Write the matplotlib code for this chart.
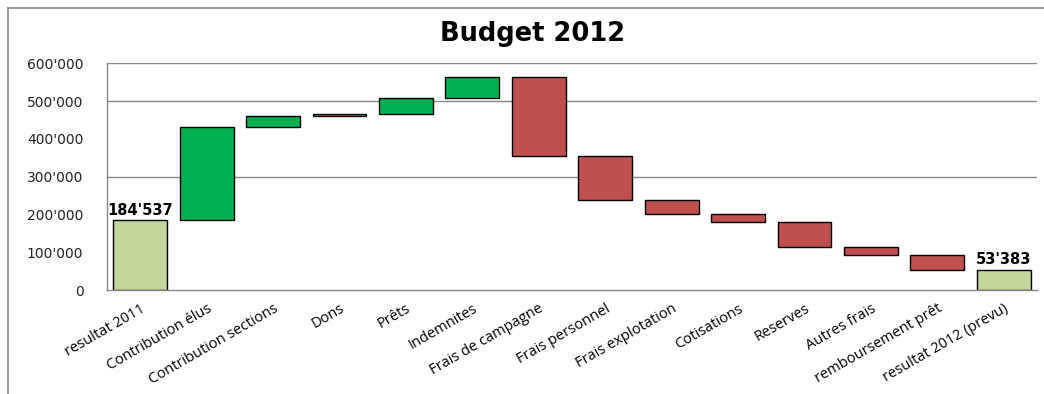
import matplotlib
matplotlib.use("Agg")
import matplotlib.pyplot as plt
from matplotlib.lines import Line2D
from matplotlib.ticker import FuncFormatter
import numpy as np

categories = ["resultat 2011", "Contribution élus", "Contribution sections", "Dons",
              "Prêts", "Indemnites", "Frais de campagne", "Frais personnel",
              "Frais explotation", "Cotisations", "Reserves", "Autres frais",
              "remboursement prêt", "resultat 2012 (prevu)"]
start_total = 184537
changes = [247000, 29000, 6000, 41000, 55000,
           -209000, -116500, -37000, -21000, -64500, -23000, -38154]
end_total = 53383
gridlines = [300000, 500000, 600000]
yticks = [0, 100000, 200000, 300000, 400000, 500000, 600000]

C_TOTAL = "#C3D69B"
C_UP = "#00B050"
C_DOWN = "#C0504D"

plt.rcParams['font.family'] = ['Open Sans', 'DejaVu Sans']

fig = plt.figure(figsize=(10.44, 3.94), dpi=100)
ax = fig.add_axes([107/1044, 1-290/394, (1037-107)/1044, (290-63.3)/394])

bottoms, heights, colors = [], [], []
bottoms.append(0); heights.append(start_total); colors.append(C_TOTAL)
level = start_total
for c in changes:
    if c >= 0:
        bottoms.append(level); heights.append(c); colors.append(C_UP)
    else:
        bottoms.append(level + c); heights.append(-c); colors.append(C_DOWN)
    level += c
bottoms.append(0); heights.append(end_total); colors.append(C_TOTAL)

x = np.arange(len(categories))
for g in gridlines:
    ax.axhline(g, color="#868686", lw=1.0, zorder=0)
ax.bar(x, heights, bottom=bottoms, width=0.81, color=colors,
       edgecolor="black", linewidth=1.0, zorder=2)

ax.text(x[0], start_total + 7000, "184'537", ha="center", va="bottom",
        fontsize=10.5, fontweight="bold", family=["DejaVu Sans"])
ax.text(x[-1], end_total + 7000, "53'383", ha="center", va="bottom",
        fontsize=10.5, fontweight="bold", family=["DejaVu Sans"])

ax.set_xlim(-0.5, len(categories) - 0.5)
ax.set_ylim(0, 600000)
ax.set_yticks(yticks)
ax.yaxis.set_major_formatter(FuncFormatter(lambda v, p: "0" if v == 0 else f"{int(v):,}".replace(",", "'")))
ax.set_xticks(x)
ax.set_xticklabels(categories, rotation=30, ha="right", rotation_mode="anchor", fontsize=10.5)
ax.tick_params(axis="both", length=0)
for lab in ax.get_yticklabels():
    lab.set_family(["DejaVu Sans"])
ax.tick_params(axis="y", pad=17, labelsize=10, labelcolor="#222222")
ax.tick_params(axis="x", pad=8)
for s in ["top", "right"]:
    ax.spines[s].set_visible(False)
for s in ["left", "bottom"]:
    ax.spines[s].set_color("#868686")
    ax.spines[s].set_linewidth(1.0)

fig.text(0.51, 1 - 34/394, "Budget 2012", ha="center", va="center",
         fontsize=18.5, fontweight="bold", family=["DejaVu Sans"])

# outer chart frame (left and top edges visible)
fig.add_artist(Line2D([8/1044, 8/1044], [0, 1 - 8/394], transform=fig.transFigure,
                      color="#878787", lw=1.2))
fig.add_artist(Line2D([8/1044, 1], [1 - 8/394, 1 - 8/394], transform=fig.transFigure,
                      color="#878787", lw=1.2))

fig.savefig("out.png", dpi=100)
